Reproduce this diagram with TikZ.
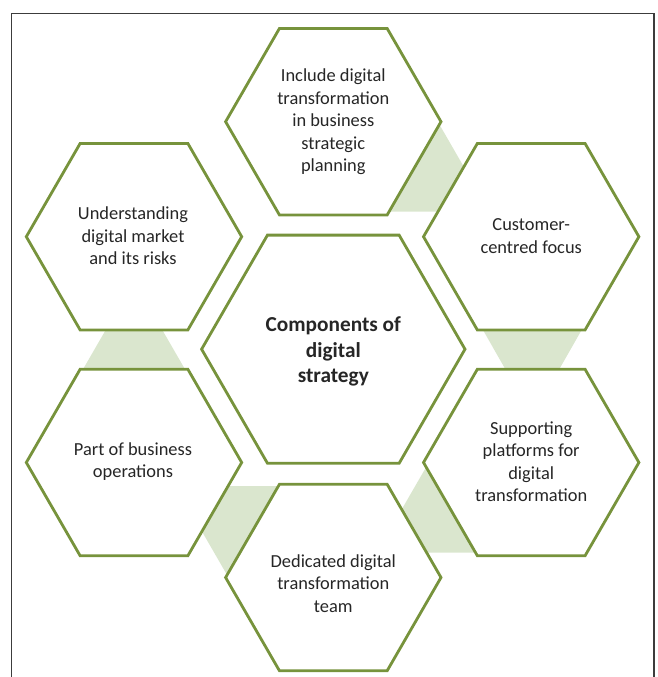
\documentclass[tikz,border=0pt]{standalone}
\usepackage{fontspec}
\setmainfont{Carlito}
\usetikzlibrary{shapes.geometric}

\definecolor{hexline}{RGB}{119,147,60}
\definecolor{wedge}{RGB}{218,230,206}
\definecolor{inktext}{RGB}{38,38,38}
\definecolor{framegray}{RGB}{60,60,60}

\begin{document}
\begin{tikzpicture}[x=1pt,y=-1pt,
  hexbox/.style={regular polygon, regular polygon sides=6, draw=hexline,
    line width=2.8pt, fill=white, inner sep=0pt, minimum size=215.4pt},
  hubbox/.style={hexbox, minimum size=263.4pt},
  caption/.style={align=center, text=inktext, inner sep=0pt,
    font=\fontsize{18.4}{22.5}\selectfont},
  hubcaption/.style={caption, font=\fontsize{21.3}{25.5}\selectfont\bfseries},
  wedgefill/.style={fill=wedge, draw=none}]

\useasboundingbox (0,0) rectangle (657,677);

% open frame: left, top and right sides
\draw[framegray, line width=1.2pt] (11.5,677) -- (11.5,13.5) -- (654,13.5) -- (654,677);

% light green wedges joining neighbouring hexagons
\fill[wedgefill] (439.7,125) -- (389.7,211.7) -- (489.7,211.7) -- cycle;
\fill[wedgefill] (480.7,326) -- (583.9,326) -- (532.3,416.5) -- cycle;
\fill[wedgefill] (426.3,466.8) -- (376.7,552.7) -- (475.9,552.7) -- cycle;
\fill[wedgefill] (226.5,574) -- (175.7,486) -- (279,486) -- cycle;
\fill[wedgefill] (134,281) -- (82,371) -- (186,371) -- cycle;

% hexagons
\node[hubbox] (hub) at (333.3,349.2) {};
\node[hexbox] (h-top) at (333.3,121.7) {};
\node[hexbox] (h-ul)  at (134,236.7) {};
\node[hexbox] (h-ur)  at (531.2,236.7) {};
\node[hexbox] (h-ll)  at (134,462.5) {};
\node[hexbox] (h-lr)  at (531.2,462.5) {};
\node[hexbox] (h-bot) at (333.3,577.5) {};

% captions
\node[hubcaption] (t-hub) at (333.3,351.5) {Components of\\digital\\strategy};
\node[caption] (t-top) at (333.3,121.7) {Include digital\\transformation\\in business\\strategic\\planning};
\node[caption] (t-ul) at (133,236) {Understanding\\digital market\\and its risks};
\node[caption] (t-ur) at (531.2,236) {Customer-\\centred focus};
\node[caption] (t-ll) at (133,461.5) {Part of business\\operations};
\node[caption] (t-lr) at (531.2,461.5) {Supporting\\platforms for\\digital\\transformation};
\node[caption] (t-bot) at (333.3,583.5) {Dedicated digital\\transformation\\team};
\end{tikzpicture}
\end{document}
